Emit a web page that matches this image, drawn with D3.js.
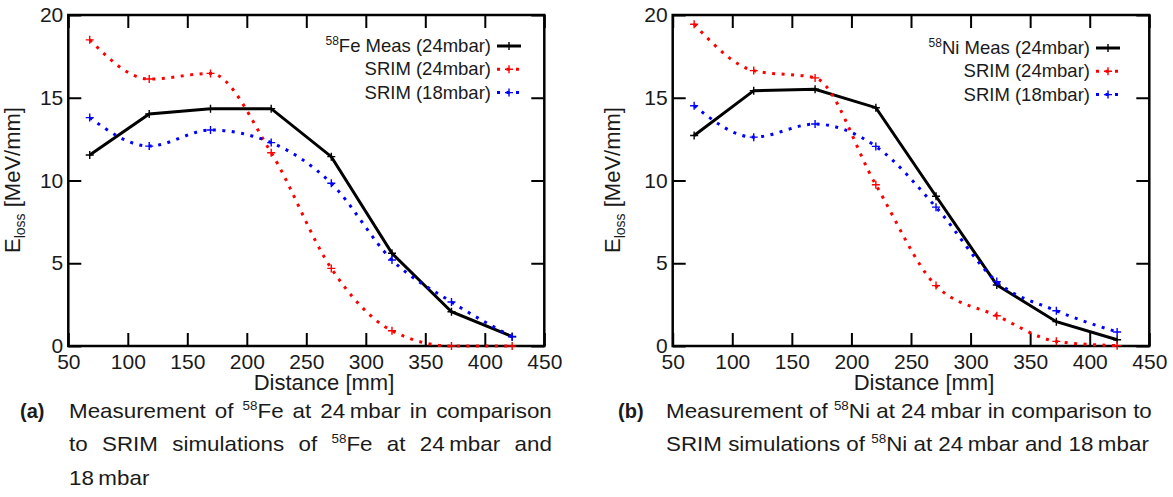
<!DOCTYPE html>
<html>
<head>
<meta charset="utf-8">
<script src="https://cdn.jsdelivr.net/npm/d3@7"></script>
<style>
  body { margin: 0; background: #fff; }
  text { font-family: "Liberation Sans", Arial, sans-serif; fill: #1a1a1a; }
</style>
</head>
<body>
<svg id="chart" width="1173" height="497"></svg>
<script>
// distances of the measuring points [mm]
const distance = [68, 118, 169.5, 220.5, 271, 322, 372, 423];

// panel (a): 58Fe
const feMeas   = [11.54, 14.02, 14.34, 14.34, 11.44, 5.6, 2.07, 0.57];
const feSrim24 = [18.5, 16.13, 16.47, 11.68, 4.69, 0.92, 0.0, 0.0];
const feSrim18 = [13.8, 12.08, 13.05, 12.29, 9.83, 5.2, 2.66, 0.55];

// panel (b): 58Ni
const niMeas   = [12.72, 15.43, 15.51, 14.4, 9.05, 3.69, 1.47, 0.38];
const niSrim24 = [19.44, 16.64, 16.2, 9.74, 3.65, 1.83, 0.28, 0.02];
const niSrim18 = [14.52, 12.62, 13.41, 12.06, 8.39, 3.89, 2.13, 0.85];

const xTicks = [50, 100, 150, 200, 250, 300, 350, 400, 450];
const yTicks = [0, 5, 10, 15, 20];
const seriesLabels = ["Meas (24mbar)", "SRIM (24mbar)", "SRIM (18mbar)"];

const svg = d3.select("#chart");

function drawPanel(p) {
    var x = d3.scaleLinear().domain([50, 450]).range([p.left, p.right]);
    var y = d3.scaleLinear().domain([0, 20]).range([346, 15]);
    var g = svg.append("g");

    // axes, ticks pointing inward on all four sides
    var bottom = g.append("g").attr("transform", "translate(0,346)")
        .call(d3.axisBottom(x).tickValues(xTicks).tickSizeInner(-13).tickSizeOuter(0).tickPadding(8));
    var top = g.append("g").attr("transform", "translate(0,15)")
        .call(d3.axisTop(x).tickValues(xTicks).tickSizeInner(-13).tickSizeOuter(0).tickFormat(""));
    var left = g.append("g").attr("transform", "translate(" + p.left + ",0)")
        .call(d3.axisLeft(y).tickValues(yTicks).tickSizeInner(-13).tickSizeOuter(0).tickPadding(5));
    var right = g.append("g").attr("transform", "translate(" + p.right + ",0)")
        .call(d3.axisRight(y).tickValues(yTicks).tickSizeInner(-13).tickSizeOuter(0).tickFormat(""));
    [bottom, top, left, right].forEach(function (a) {
        a.select(".domain").remove();
        a.selectAll("line").attr("stroke", "#000").attr("stroke-width", 2);
        a.selectAll("text").attr("font-size", 21).attr("fill", "#1a1a1a")
            .attr("font-family", "Liberation Sans, Arial, sans-serif");
    });

    g.append("rect")
        .attr("x", p.left).attr("y", 15)
        .attr("width", p.right - p.left).attr("height", 331)
        .attr("fill", "none").attr("stroke", "#000").attr("stroke-width", 2.5);

    // axis titles
    var yl = g.append("text")
        .attr("transform", "translate(" + p.ylabX + ",180) rotate(-90)")
        .attr("text-anchor", "middle").attr("font-size", 22);
    yl.append("tspan").text("E");
    yl.append("tspan").attr("font-size", 14).attr("dy", 5).text("loss");
    yl.append("tspan").attr("dy", -5).text(" [MeV/mm]");

    g.append("text")
        .attr("x", p.xlabX).attr("y", 390)
        .attr("text-anchor", "middle").attr("font-size", 22)
        .text("Distance [mm]");

    // series
    var series = [
        { values: p.meas, color: "#000", curve: d3.curveLinear, width: 3, dash: null },
        { values: p.srim24, color: "#ff0000", curve: d3.curveMonotoneX, width: 3, dash: "3,6.5" },
        { values: p.srim18, color: "#0000ff", curve: d3.curveMonotoneX, width: 3, dash: "3,6.5" }
    ];

    series.forEach(function (s) {
        var pts = distance.map(function (d, i) { return [d, s.values[i]]; });
        var line = d3.line()
            .x(function (d) { return x(d[0]); })
            .y(function (d) { return y(d[1]); })
            .curve(s.curve);
        g.append("path")
            .datum(pts)
            .attr("d", line)
            .attr("fill", "none")
            .attr("stroke", s.color)
            .attr("stroke-width", s.width)
            .attr("stroke-dasharray", s.dash);
        g.selectAll(null)
            .data(pts)
            .enter().append("path")
            .attr("transform", function (d) { return "translate(" + x(d[0]) + "," + y(d[1]) + ")"; })
            .attr("d", "M-4,0H4M0,-4V4")
            .attr("stroke", s.color)
            .attr("stroke-width", 1.4)
            .attr("fill", "none");
    });

    // legend
    series.forEach(function (s, i) {
        var by = p.legY + i * 23.3;
        var t = g.append("text")
            .attr("x", p.legX).attr("y", by)
            .attr("text-anchor", "end").attr("font-size", 18.5);
        if (i === 0) {
            t.append("tspan").attr("font-size", 12).attr("dy", -7).text("58");
            t.append("tspan").attr("dy", 7).text(p.element + " " + seriesLabels[0]);
        } else {
            t.text(seriesLabels[i]);
        }
        var sy = by - 6;
        g.append("line")
            .attr("x1", p.legX + 6).attr("x2", p.legX + 30)
            .attr("y1", sy).attr("y2", sy)
            .attr("stroke", s.color).attr("stroke-width", s.width)
            .attr("stroke-dasharray", s.dash);
        g.append("path")
            .attr("transform", "translate(" + (p.legX + 18) + "," + sy + ")")
            .attr("d", "M-4,0H4M0,-4V4")
            .attr("stroke", s.color).attr("stroke-width", 1.4);
    });
}

drawPanel({ left: 68.3, right: 544.3, ylabX: 20, xlabX: 324, legX: 491, legY: 52,
    element: "Fe", meas: feMeas, srim24: feSrim24, srim18: feSrim18 });
drawPanel({ left: 672.7, right: 1149.3, ylabX: 620, xlabX: 924, legX: 1090, legY: 54,
    element: "Ni", meas: niMeas, srim24: niSrim24, srim18: niSrim18 });

// captions: condensed sans, justified lines get extra word spacing
function captionText(parts) {
    var t = svg.append("text").attr("font-size", 20).attr("x", 0).attr("y", 0);
    parts.forEach(function (pt) {
        if (pt.sup) {
            t.append("tspan").attr("font-size", 12).attr("dy", -8).text(pt.sup);
            t.append("tspan").attr("dy", 8).text(pt.txt);
        } else {
            t.append("tspan").text(pt.txt);
        }
    });
    return t;
}
function captionLine(x0, x1, yb, parts, k, justify) {
    var t = captionText(parts);
    var w = t.node().getComputedTextLength();
    if (justify) {
        var spaces = parts.map(function (p) { return p.txt; }).join("").split(" ").length - 1;
        var extra = (x1 - x0) / k - w;
        if (extra > 0) t.attr("word-spacing", extra / spaces);
    }
    t.attr("transform", "translate(" + x0 + "," + yb + ") scale(" + k + ",1)");
}

var refLine = [{ txt: "SRIM simulations of " }, { sup: "58", txt: "Ni at 24\u2009mbar and 18\u2009mbar" }];
var probe = captionText(refLine);
var kc = (1149 - 666) / probe.node().getComputedTextLength();
probe.remove();

svg.append("text").attr("x", 20).attr("y", 418).attr("font-size", 20).attr("font-weight", "bold").text("(a)");
captionLine(69, 552, 418, [{ txt: "Measurement of " }, { sup: "58", txt: "Fe at 24\u2009mbar in comparison" }], kc, true);
captionLine(69, 552, 451, [{ txt: "to SRIM simulations of " }, { sup: "58", txt: "Fe at 24\u2009mbar and" }], kc, true);
captionLine(69, 552, 485, [{ txt: "18\u2009mbar" }], kc, false);

svg.append("text").attr("x", 618).attr("y", 418).attr("font-size", 20).attr("font-weight", "bold").text("(b)");
captionLine(666, 1149, 418, [{ txt: "Measurement of " }, { sup: "58", txt: "Ni at 24\u2009mbar in comparison to" }], kc, true);
captionLine(666, 1149, 451, refLine, kc, true);
</script>
</body>
</html>
